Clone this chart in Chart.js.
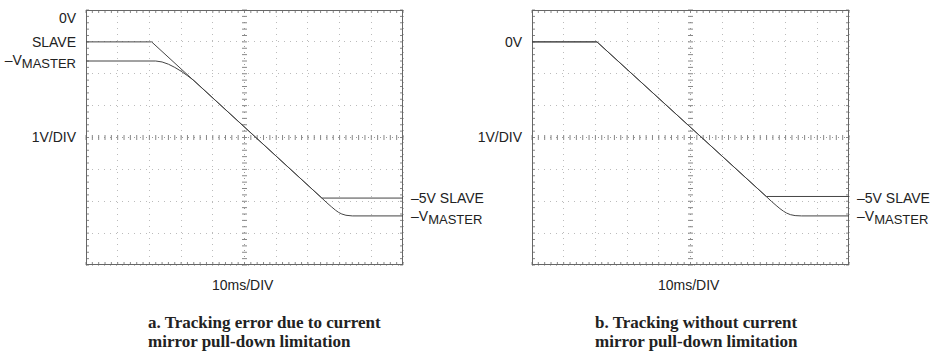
<!DOCTYPE html>
<html>
<head>
<meta charset="utf-8">
<script src="https://cdn.jsdelivr.net/npm/chart.js@4"></script>
<style>
  body { margin: 0; background: #fff; }
  #page { position: relative; width: 935px; height: 358px; overflow: hidden; }
  canvas { position: absolute; }
  .lbl { position: absolute; font-family: "Liberation Sans", Arial, sans-serif; font-size: 14px; color: #222; white-space: nowrap; line-height: 1; }
  .r { text-align: right; width: 80px; }
  .lbl sub { font-size: 13px; vertical-align: -3px; }
  .cap { position: absolute; font-family: "Liberation Serif", "DejaVu Serif", serif; font-weight: bold; font-size: 17px; line-height: 19px; color: #222; white-space: nowrap; }
</style>
</head>
<body>
<div id="page">
  <canvas id="scopeA" width="327" height="265" style="left:81px;top:5px"></canvas>
  <canvas id="scopeB" width="327" height="265" style="left:527px;top:5px"></canvas>

  <div class="lbl r" style="left:-4px;top:11px">0V</div>
  <div class="lbl r" style="left:-4px;top:35px">SLAVE</div>
  <div class="lbl r" style="left:-4px;top:53px">–V<sub>MASTER</sub></div>
  <div class="lbl r" style="left:-4px;top:130px">1V/DIV</div>
  <div class="lbl" style="left:411px;top:191px">–5V SLAVE</div>
  <div class="lbl" style="left:411px;top:209px">–V<sub>MASTER</sub></div>
  <div class="lbl" style="left:212px;top:278px">10ms/DIV</div>

  <div class="lbl r" style="left:442px;top:35px">0V</div>
  <div class="lbl r" style="left:442px;top:130px">1V/DIV</div>
  <div class="lbl" style="left:857px;top:191px">–5V SLAVE</div>
  <div class="lbl" style="left:857px;top:209px">–V<sub>MASTER</sub></div>
  <div class="lbl" style="left:658px;top:278px">10ms/DIV</div>

  <div class="cap" style="left:148px;top:313px">a. Tracking error due to current<br>mirror pull-down limitation</div>
  <div class="cap" style="left:595px;top:313px">b. Tracking without current<br>mirror pull-down limitation</div>
</div>
<script>
// time in divisions (10ms/DIV), voltage in volts (1V/DIV)
const slaveTimeA = [0, 2.07, 7.44, 10];
const slaveVoltA = [0, 0, -4.9, -4.9];
const masterTimeA = [0, 2.2, 2.4, 2.6, 2.8, 3.0, 3.2, 3.4, 7.44, 7.6, 7.75, 7.87, 7.97, 8.07, 8.2, 8.4, 10];
const masterVoltA = [-0.6, -0.6, -0.63, -0.7, -0.8, -0.92, -1.06, -1.21, -4.9, -5.05, -5.18, -5.28, -5.35, -5.4, -5.44, -5.46, -5.46];

const slaveTimeB = [0, 2.05, 7.39, 10];
const slaveVoltB = [0, 0, -4.85, -4.85];
const masterTimeB = [0, 2.05, 7.39, 7.55, 7.7, 7.82, 7.93, 8.03, 8.15, 8.3, 8.5, 10];
const masterVoltB = [0, 0, -4.85, -5.0, -5.13, -5.23, -5.31, -5.37, -5.42, -5.45, -5.46, -5.46];

const xMin = 0, xMax = 10, yMin = -7, yMax = 1;
const xCenter = 5, yCenter = -3;

function pts(t, v) {
  return t.map((x, i) => ({ x: x, y: v[i] }));
}

// frame, plus the small tick marks on the centre axes and along the edges
const scopeFrame = {
  id: 'scopeFrame',
  beforeDatasetsDraw(chart) {
    const { ctx, chartArea: a, scales: { x, y } } = chart;
    ctx.save();
    ctx.strokeStyle = '#888';
    ctx.lineWidth = 1;
    ctx.beginPath();
    for (let v = xMin; v <= xMax + 1e-6; v += 0.2) {
      const px = x.getPixelForValue(v);
      const cy = y.getPixelForValue(yCenter);
      ctx.moveTo(px, cy - 2.5); ctx.lineTo(px, cy + 2.5);
      ctx.moveTo(px, a.top); ctx.lineTo(px, a.top + 3);
      ctx.moveTo(px, a.bottom); ctx.lineTo(px, a.bottom - 3);
    }
    for (let v = yMin; v <= yMax + 1e-6; v += 0.2) {
      const py = y.getPixelForValue(v);
      const cx = x.getPixelForValue(xCenter);
      ctx.moveTo(cx - 2.5, py); ctx.lineTo(cx + 2.5, py);
      ctx.moveTo(a.left, py); ctx.lineTo(a.left + 3, py);
      ctx.moveTo(a.right, py); ctx.lineTo(a.right - 3, py);
    }
    ctx.stroke();
    ctx.strokeStyle = '#666';
    ctx.strokeRect(a.left + 0.5, a.top + 0.5, a.right - a.left - 1, a.bottom - a.top - 1);
    ctx.restore();
  }
};

function makeScope(id, slave, master) {
  const trace = {
    borderColor: '#444',
    borderWidth: 1,
    pointRadius: 0,
    fill: false,
    tension: 0
  };
  new Chart(document.getElementById(id), {
    type: 'line',
    data: {
      datasets: [
        Object.assign({ label: 'SLAVE', data: slave }, trace),
        Object.assign({ label: 'MASTER', data: master }, trace)
      ]
    },
    options: {
      responsive: false,
      animation: false,
      events: [],
      layout: { padding: 5 },
      plugins: { legend: { display: false }, tooltip: { enabled: false } },
      scales: {
        x: {
          type: 'linear', min: xMin, max: xMax,
          ticks: { display: false, stepSize: 1 },
          grid: {
            drawTicks: false,
            color: c => c.tick && c.tick.value === xCenter ? '#999' : '#bbb'
          },
          border: { display: false, dash: [1, 5] }
        },
        y: {
          type: 'linear', min: yMin, max: yMax,
          ticks: { display: false, stepSize: 1 },
          grid: {
            drawTicks: false,
            color: c => c.tick && c.tick.value === yCenter ? '#999' : '#bbb'
          },
          border: { display: false, dash: [1, 5] }
        }
      }
    },
    plugins: [scopeFrame]
  });
}

makeScope('scopeA', pts(slaveTimeA, slaveVoltA), pts(masterTimeA, masterVoltA));
makeScope('scopeB', pts(slaveTimeB, slaveVoltB), pts(masterTimeB, masterVoltB));
</script>
</body>
</html>
